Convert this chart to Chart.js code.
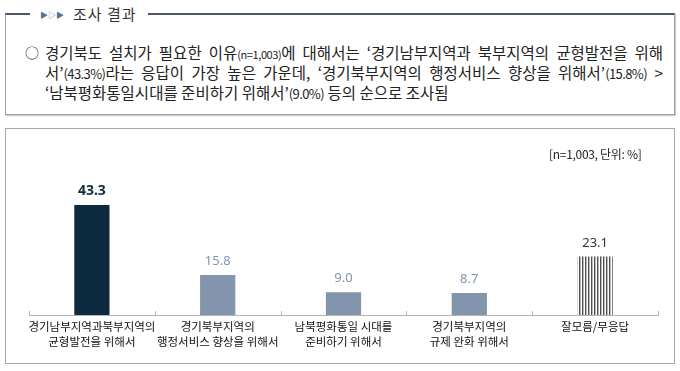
<!DOCTYPE html>
<html>
<head>
<meta charset="utf-8">
<script src="https://cdn.jsdelivr.net/npm/chart.js@4"></script>
<style>
  body { margin: 0; background: #fff; font-family: "Noto Sans CJK KR", "Noto Sans", sans-serif; }
  #page { position: relative; width: 680px; height: 371px; overflow: hidden; }
  #summary {
    position: absolute; left: 5px; top: 13px; width: 668px; height: 99px;
    border: 1px solid #a0a0a0; border-top: 2px solid #4a5868;
    box-shadow: 1px 1px 1px #ccc;
  }
  #legend {
    position: absolute; left: 30px; top: 2px; width: 118px; height: 24px;
    background: #fff; font-size: 15px; color: #333; line-height: 24px; letter-spacing: 1px;
  }
  #legend .arrows { font-size: 8px; color: #5b6f8c; margin-left: 10px; margin-right: 9px; letter-spacing: 0; vertical-align: 2px; }
  .line {
    position: absolute; left: 45px; width: 618px; font-size: 15.5px; color: #222;
    line-height: 20px; text-align: justify; text-align-last: justify; white-space: nowrap;
  }
  .line.last { text-align-last: left; }
  .sm { font-size: 11px; letter-spacing: -0.4px; }
  .md { font-size: 13px; letter-spacing: -0.6px; }
  #bullet { position: absolute; left: 25px; top: 42px; font-size: 14px; color: #222; line-height: 20px; }
  #chartBox {
    position: absolute; left: 5px; top: 128px; width: 668px; height: 234px;
    border: 1px solid #a8a8a8;
  }
  #chartBox canvas { position: absolute; left: 0; top: 0; }
  #unit { position: absolute; left: 543px; top: 16px; font-size: 12px; color: #222; letter-spacing: -0.3px; }
</style>
</head>
<body>
<div id="page">
  <div id="summary"></div>
  <div id="legend"><span class="arrows">▶▷▶</span>조사 결과</div>
  <div id="bullet">○</div>
  <div class="line" style="top:42px">경기북도 설치가 필요한 이유<span class="sm">(n=1,003)</span>에 대해서는 ‘경기남부지역과 북부지역의 균형발전을 위해</div>
  <div class="line" style="top:62px">서’<span class="md">(43.3%)</span>라는 응답이 가장 높은 가운데, ‘경기북부지역의 행정서비스 향상을 위해서’<span class="md">(15.8%)</span> &gt;</div>
  <div class="line last" style="top:82px">‘남북평화통일시대를 준비하기 위해서’<span class="md">(9.0%)</span> 등의 순으로 조사됨</div>

  <div id="chartBox">
    <canvas id="barChart" width="668" height="234"></canvas>
    <div id="unit">[n=1,003, 단위: %]</div>
  </div>
</div>

<script>
// data
const categories = [
  ['경기남부지역과북부지역의', '균형발전을 위해서'],
  ['경기북부지역의', '행정서비스 향상을 위해서'],
  ['남북평화통일 시대를', '준비하기 위해서'],
  ['경기북부지역의', '규제 완화 위해서'],
  '잘모름/무응답'
];
const values = [43.3, 15.8, 9.0, 8.7, 23.1];
const valueLabels = ['43.3', '15.8', '9.0', '8.7', '23.1'];

const navy = '#0e2a3f';
const slate = '#8295ad';

// vertical stripes for the "don't know" bar
function stripes() {
  const c = document.createElement('canvas');
  c.width = 3; c.height = 4;
  const g = c.getContext('2d');
  g.fillStyle = '#fff'; g.fillRect(0, 0, 3, 4);
  g.fillStyle = '#505050'; g.fillRect(0, 0, 1, 4);
  g.fillStyle = '#b8b8b8'; g.fillRect(1, 0, 1, 4);
  return g.createPattern(c, 'repeat');
}

const barColors = [navy, slate, slate, slate, stripes()];
const labelColors = [navy, slate, slate, slate, '#333'];

// value labels above the bars
const valueLabelPlugin = {
  id: 'valueLabels',
  afterDatasetsDraw(chart) {
    const ctx = chart.ctx;
    const meta = chart.getDatasetMeta(0);
    ctx.save();
    ctx.textAlign = 'center';
    ctx.textBaseline = 'bottom';
    meta.data.forEach((bar, i) => {
      ctx.fillStyle = labelColors[i];
      ctx.font = (i === 0 ? 'bold 14px' : '13px') + ' "Noto Sans", sans-serif';
      ctx.fillText(valueLabels[i], bar.x, bar.y - 7);
    });
    ctx.restore();
  }
};

// small upward ticks between categories on the axis line
const axisTicks = {
  id: 'axisTicks',
  afterDraw(chart) {
    const ctx = chart.ctx;
    const x = chart.scales.x;
    const step = x.getPixelForValue(1) - x.getPixelForValue(0);
    ctx.save();
    ctx.strokeStyle = '#b5b5b5';
    ctx.lineWidth = 1;
    for (let i = 0; i <= categories.length; i++) {
      const px = Math.round(x.getPixelForValue(0) - step / 2 + i * step) + 0.5;
      ctx.beginPath();
      ctx.moveTo(px, x.top);
      ctx.lineTo(px, x.top - 4);
      ctx.stroke();
    }
    ctx.restore();
  }
};

new Chart(document.getElementById('barChart').getContext('2d'), {
  type: 'bar',
  data: {
    labels: categories,
    datasets: [{
      data: values,
      backgroundColor: barColors,
      borderWidth: 0,
      categoryPercentage: 1,
      barPercentage: 0.28
    }]
  },
  options: {
    responsive: false,
    animation: false,
    layout: { padding: { left: 23, right: 16, top: 59, bottom: 10 } },
    scales: {
      x: {
        grid: { display: false, drawTicks: false },
        border: { color: '#b5b5b5', width: 1 },
        ticks: {
          padding: 4,
          color: '#111',
          maxRotation: 0,
          autoSkip: false,
          font: { family: '"Noto Sans CJK KR", sans-serif', size: 11.5, lineHeight: 1.3 }
        }
      },
      y: { display: false, min: 0, max: 50 }
    },
    plugins: {
      legend: { display: false },
      tooltip: { enabled: false }
    }
  },
  plugins: [valueLabelPlugin, axisTicks]
});
</script>
</body>
</html>
